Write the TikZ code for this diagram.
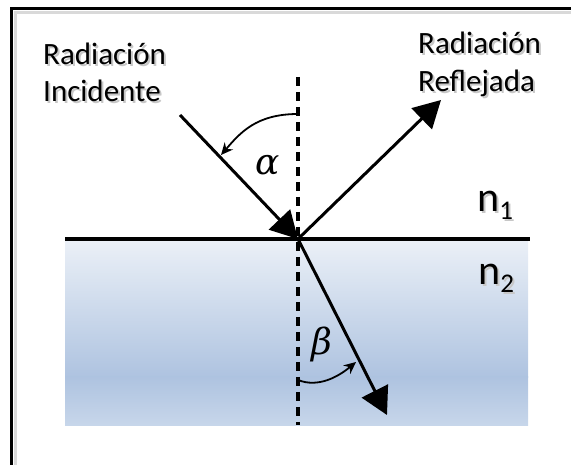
\documentclass[tikz,border=0pt]{standalone}
\usepackage{fontspec}
\setmainfont{Carlito}
\newfontfamily\greekfont{DejaVu Serif}
\usetikzlibrary{arrows.meta}
\definecolor{wtop}{HTML}{EBF0F7}
\definecolor{wmid}{HTML}{AEC3E0}
\definecolor{wbot}{HTML}{C7D6EA}
\tikzset{
  ray/.style={line width=3pt, -{Triangle[length=27pt,width=29pt]}},
  angarrow/.style={line width=1.8pt, -{Stealth[length=12pt,width=11pt]}},
  normalline/.style={line width=3.5pt, dash pattern=on 9pt off 6pt},
  lbl/.style={font=\fontsize{31}{37}\selectfont, inner sep=0pt, anchor=base west},
  shadowtxt/.style={text=black!22},
  idx/.style={inner sep=0pt, anchor=base west, font=\fontsize{42}{42}\selectfont},
  greek/.style={inner sep=0pt, font=\greekfont\itshape\fontsize{36}{36}\selectfont}
}
\begin{document}
\begin{tikzpicture}[x=1pt,y=-1pt]
\useasboundingbox (0,0) rectangle (571,465);
\clip (0,0) rectangle (571,465);
% frame (only left and top visible)
\draw[line width=3pt, black!15] (15,480) -- (15,12.5) -- (590,12.5);
\draw[line width=3pt] (11.5,480) -- (11.5,9) -- (590,9);
% medium 2
\fill[top color=wtop, bottom color=wmid] (65,240) rectangle (528,377.5);
\fill[top color=wmid, bottom color=wbot] (65,377) rectangle (528,425);
% coordinates
\coordinate (P) at (298,239);
\coordinate (Ntop) at (298,77);
\coordinate (Nbot) at (298,425);
\coordinate (Ls) at (65,239);
\coordinate (Le) at (530,239);
\coordinate (Istart) at (180,115);
\coordinate (Rtip) at (441,100);
\coordinate (Ttip) at (387,415);
\coordinate (As) at (298,114);
\coordinate (Ae) at (221,155);
\coordinate (Bs) at (298,380);
\coordinate (Be) at (356,362);
% interface and normal
\draw[line width=3.5pt] (Ls) -- (Le);
\draw[normalline] (Ntop) -- (Nbot);
% rays
\draw[ray] (Istart) -- (P);
\draw[ray] (P) -- (Rtip);
\draw[ray] (P) -- (Ttip);
% angle arcs
\draw[angarrow] (As) .. controls (256,114) and (240,133) .. (Ae);
\draw[angarrow] (Bs) .. controls (318,388) and (338,377) .. (Be);
\node[greek] (alpha) at (268,165) {α};
\node[greek] (beta) at (322,344) {β};
% labels with soft shadow
\node[lbl,shadowtxt] (s1) at (45,67) {Radiación};
\node[lbl,shadowtxt] (s2) at (45,104) {Incidente};
\node[lbl,shadowtxt] (s3) at (420,56) {Radiación};
\node[lbl,shadowtxt] (s4) at (420,94) {Reflejada};
\node[lbl] (inc1) at (43,65) {Radiación};
\node[lbl] (inc2) at (43,102) {Incidente};
\node[lbl] (ref1) at (418,54) {Radiación};
\node[lbl] (ref2) at (418,92) {Reflejada};
\node[idx,shadowtxt] (s5) at (479,214) {n\raisebox{-8pt}{\fontsize{27}{27}\selectfont 1}};
\node[idx,shadowtxt] (s6) at (480,287) {n\raisebox{-8pt}{\fontsize{27}{27}\selectfont 2}};
\node[idx] (n1) at (477,212) {n\raisebox{-8pt}{\fontsize{27}{27}\selectfont 1}};
\node[idx] (n2) at (478,285) {n\raisebox{-8pt}{\fontsize{27}{27}\selectfont 2}};
\end{tikzpicture}
\end{document}
